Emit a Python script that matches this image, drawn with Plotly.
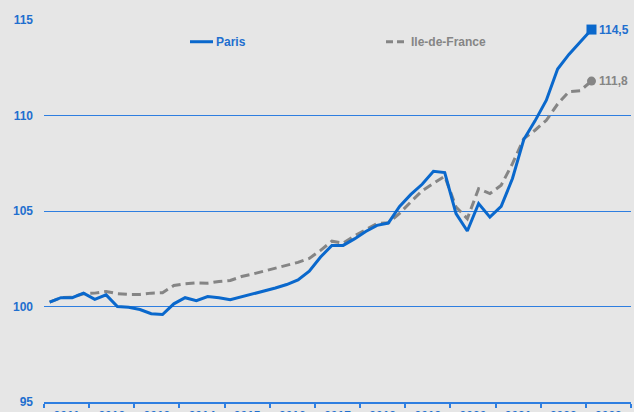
import plotly.graph_objects as go

# Quarterly index values, 2011 Q1 .. 2023 Q1 (base 100)
quarters = [f"{y}T{q}" for y in range(2011, 2024) for q in range(1, 5)][:49]
paris = [100.23, 100.46, 100.46, 100.70, 100.37, 100.61, 100.00, 99.96, 99.84, 99.62,
         99.58, 100.14, 100.46, 100.31, 100.52, 100.46, 100.35, 100.50, 100.66, 100.81,
         100.97, 101.15, 101.39, 101.85, 102.59, 103.20, 103.20, 103.54, 103.93, 104.25,
         104.37, 105.24, 105.87, 106.40, 107.08, 107.01, 104.86, 103.95, 105.39, 104.68,
         105.24, 106.70, 108.74, 109.72, 110.80, 112.43, 113.20, 113.85, 114.50]
idf = [100.23, 100.46, 100.49, 100.67, 100.70, 100.79, 100.67, 100.63, 100.63, 100.70,
       100.72, 101.10, 101.19, 101.24, 101.22, 101.31, 101.36, 101.57, 101.70, 101.86,
       101.99, 102.18, 102.31, 102.52, 102.94, 103.42, 103.32, 103.70, 104.04, 104.34,
       104.38, 104.88, 105.48, 106.06, 106.45, 106.82, 105.21, 104.60, 106.17, 105.91,
       106.35, 107.48, 108.79, 109.23, 109.75, 110.60, 111.25, 111.30, 111.80]
years = list(range(2011, 2024))
year_labels = [str(y) for y in years]

BLUE = "#0a68cc"
GRID = "#2e7ee0"
GREY = "#858585"
TXT = "#1f6fcf"
BG = "#e6e6e6"
FONT = "Liberation Sans, Arial, sans-serif"

xs = list(range(len(quarters)))

fig = go.Figure()
fig.add_trace(go.Scatter(x=xs, y=idf, mode="lines", name="Ile-de-France",
                         line=dict(color=GREY, width=3, dash="9px,5px"),
                         text=quarters, hoverinfo="text+y"))
fig.add_trace(go.Scatter(x=xs, y=paris, mode="lines", name="Paris",
                         line=dict(color=BLUE, width=3),
                         text=quarters, hoverinfo="text+y"))
# end markers
fig.add_trace(go.Scatter(x=[xs[-1]], y=[idf[-1]], mode="markers",
                         marker=dict(symbol="circle", size=9, color=GREY),
                         hoverinfo="skip", cliponaxis=False))
fig.add_trace(go.Scatter(x=[xs[-1]], y=[paris[-1]], mode="markers",
                         marker=dict(symbol="square", size=10, color=BLUE),
                         hoverinfo="skip", cliponaxis=False))

def fr(v):
    return f"{v:.1f}".replace(".", ",")

fig.add_annotation(x=xs[-1], y=paris[-1], text=f"<b>{fr(paris[-1])}</b>", showarrow=False,
                   xanchor="left", xshift=6, font=dict(color=TXT, size=12, family=FONT))
fig.add_annotation(x=xs[-1], y=idf[-1], text=f"<b>{fr(idf[-1])}</b>", showarrow=False,
                   xanchor="left", xshift=6, font=dict(color=GREY, size=12, family=FONT))

# manual legend (pixel -> paper)
L, R, T, B = 44, 631, 20.3, 401.7
W, H = R - L, B - T
def px(x):
    return (x - L) / W
def py(y):
    return (B - y) / H

fig.add_shape(type="line", xref="paper", yref="paper", x0=px(190), x1=px(213),
              y0=py(42), y1=py(42), line=dict(color=BLUE, width=3))
fig.add_shape(type="line", xref="paper", yref="paper", x0=px(386), x1=px(408),
              y0=py(42), y1=py(42), line=dict(color=GREY, width=3, dash="7px,4px"))
fig.add_annotation(xref="paper", yref="paper", x=px(214), y=py(42), text="<b>Paris</b>",
                   showarrow=False, xanchor="left", yanchor="middle",
                   font=dict(color=TXT, size=12, family=FONT))
fig.add_annotation(xref="paper", yref="paper", x=px(409), y=py(42), text="<b>Ile-de-France</b>",
                   showarrow=False, xanchor="left", yanchor="middle",
                   font=dict(color=GREY, size=12, family=FONT))

fig.update_layout(
    width=634, height=412,
    margin=dict(l=L, r=634 - R, t=T, b=412 - B, autoexpand=False),
    paper_bgcolor=BG, plot_bgcolor=BG,
    showlegend=False,
    font=dict(family=FONT, size=12, color=TXT),
    xaxis=dict(
        range=[-0.5, 51.5], automargin=False,
        tickmode="array",
        tickvals=[1.5 + 4 * i for i in range(len(years))],
        ticktext=[f"<b>{t}</b>" for t in year_labels],
        ticks="", showgrid=False, zeroline=False,
        showline=True, linecolor=GRID, linewidth=1.5,
        tickfont=dict(color=TXT, size=12, family=FONT),
        ticklabelstandoff=2,
        minor=dict(ticks="outside", ticklen=4, tickcolor=GRID, tickwidth=1.5,
                   tick0=-0.5, dtick=4, showgrid=False),
    ),
    yaxis=dict(
        range=[95, 115], automargin=False,
        tickmode="array", tickvals=[95, 100, 105, 110, 115],
        ticktext=["<b>95</b>", "<b>100</b>", "<b>105</b>", "<b>110</b>", "<b>115</b>"],
        ticks="", showgrid=True, gridcolor=GRID, gridwidth=1,
        zeroline=False, showline=False,
        tickfont=dict(color=TXT, size=12, family=FONT),
        ticklabelstandoff=10,
    ),
)

fig.write_html("out.html",
               config={"displayModeBar": False},
               post_script="document.body.style.margin='0';"
                           "document.body.style.overflow='hidden';"
                           "document.body.style.background='" + BG + "';")
